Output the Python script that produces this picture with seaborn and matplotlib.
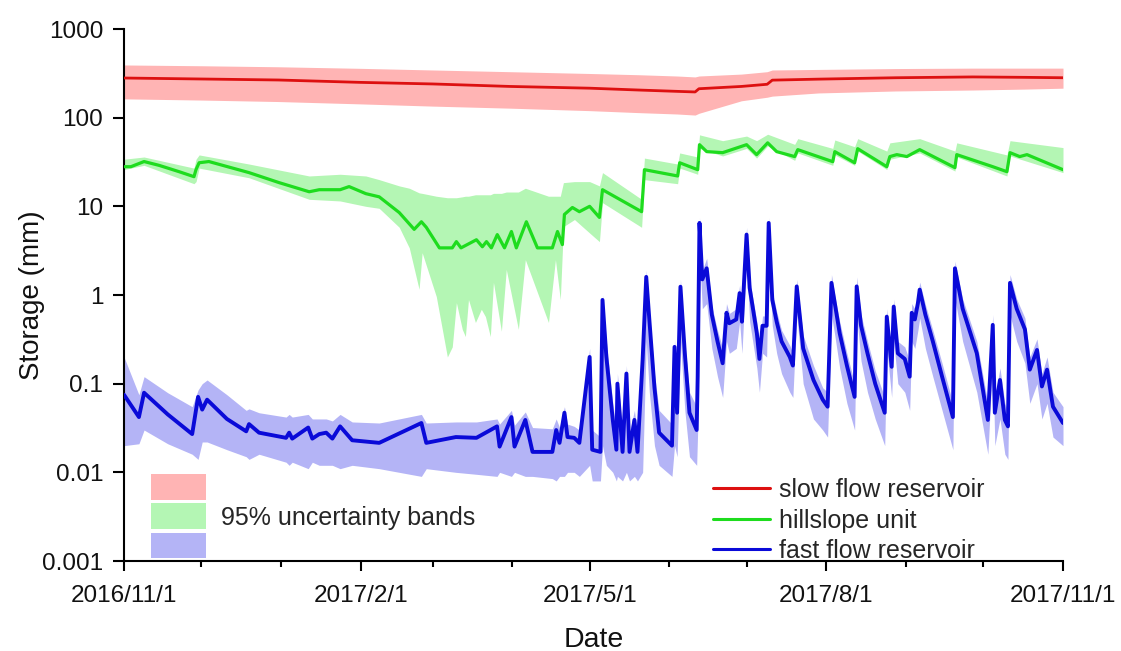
import numpy as np
import pandas as pd
import matplotlib
matplotlib.use("Agg")
import matplotlib.pyplot as plt
import matplotlib.dates as mdates
from matplotlib.ticker import FixedLocator, NullLocator
from matplotlib.patches import Patch
from matplotlib.lines import Line2D
import seaborn as sns

# ---------------- data (days after 2016-11-01, storage in mm) ----------------
START = "2016-11-01"

red_days = [0, 30, 60, 92, 120, 150, 181, 200, 215, 222, 223.5, 240, 250, 252, 270, 300, 330, 350, 365]
red_val = [280, 273, 266, 250, 240, 225, 215, 205, 198, 195, 212, 225, 238, 265, 272, 282, 288, 285, 282]
red_hi = [393, 385, 375, 360, 345, 330, 315, 305, 295, 288, 295, 310, 330, 345, 350, 358, 362, 362, 362]
red_lo = [163, 158, 152, 143, 135, 128, 120, 114, 110, 107, 112, 155, 170, 175, 190, 200, 205, 210, 215]

green_days = [0, 2.7, 7.8, 13.6, 21.4, 27.2, 28, 29.2, 33, 48.6,
              60.3, 72, 75.9, 84, 87.5, 94, 99.2, 107, 112.8, 115.6,
              117.5, 122.6, 127.6, 129.2, 131, 137, 139.3, 140.9, 142.8, 145.1,
              147.9, 150.6, 152.5, 156.4, 160.7, 166.5, 168.5, 170.4, 171.2, 174.3,
              177, 181, 184.8, 186, 201.2, 202.3, 215.2, 216, 223, 223.7,
              226.5, 232.7, 242, 245.9, 250.2, 253.7, 260.7, 261.9, 275.5, 276.3,
              284, 285.2, 296.5, 297.7, 300.4, 304.3, 309.3, 323, 323.7, 337.7,
              343.2, 344.4, 348.2, 351, 365]
green_val = [28, 28, 32, 29, 24.6, 21.6, 26, 31, 32, 24,
             18.5, 14.6, 15.4, 15.4, 16.7, 13.9, 12.8, 8.5, 5.5, 6.7,
             5.8, 3.4, 3.4, 4.0, 3.4, 4.2, 3.5, 4.0, 3.4, 4.8,
             3.4, 5.2, 3.4, 6.7, 3.4, 3.4, 5.2, 3.7, 8.1, 9.7,
             8.7, 10, 7.5, 15.4, 8.7, 25.9, 22, 31, 25.9, 49.6,
             41.4, 40.3, 49.6, 38.3, 52, 41.4, 36.4, 43.6, 31.9, 41.4,
             31, 44.7, 28, 36.4, 38.3, 36.4, 43.6, 27.3, 38.3, 28,
             24.6, 40.3, 36.4, 38.3, 25.9]

green_band_days = [0, 7.8, 27.2, 28, 29.2, 48.6, 72, 84, 94, 99.2,
                   107, 110.9, 114.7, 115.9, 121.4, 125.7, 127.6, 129.2, 131.5, 132.7,
                   133.9, 136.6, 138.9, 140.5, 142.4, 143.6, 146.7, 148.6, 153.3, 156,
                   165, 167.7, 169.6, 170.8, 175.1, 181, 184.8, 186, 201.2, 202.3,
                   215.2, 216, 223, 223.7, 232.7, 242, 245.9, 250.2, 260.7, 261.9,
                   275.5, 276.3, 284, 285.2, 296.5, 297.7, 309.3, 323, 323.7, 343.2,
                   344.4, 365]
green_hi = [34, 36, 27, 34, 38, 30, 22, 23, 22, 20,
            17, 16, 14.2, 14, 13, 12.5, 12.5, 12.5, 12.8, 13,
            13, 13.5, 13.5, 13.5, 13.5, 14, 14, 14.5, 14.5, 16,
            13, 13, 13, 18.5, 19, 19, 17, 24, 12, 35,
            30, 40, 36, 64, 55, 62, 55, 65, 50, 58,
            45, 56, 47, 58, 42, 52, 58, 42, 52, 38,
            55, 46]
green_lo = [26, 29, 18, 19, 27, 21, 12, 11.5, 10, 9.5,
            5.8, 3.4, 1.16, 3.0, 0.96, 0.2, 0.26, 0.82, 0.41, 0.34,
            0.89, 0.49, 0.69, 0.57, 0.34, 1.39, 0.39, 1.94, 0.41, 2.5,
            0.49, 2.5, 0.89, 5.9, 7.1, 5.0, 4.0, 11, 5.8, 20,
            18, 27, 23, 45, 37, 45, 35, 48, 33, 40,
            29, 38, 29, 42, 26, 34, 40, 25, 36, 22,
            37, 24]

blue_days = [0, 5.8, 7.8, 17, 26.5, 28.8, 30.4, 32.3, 40, 47.5,
             48.6, 52.5, 63, 64.2, 65.4, 71.6, 73.2, 75.9, 78.6, 81,
             84, 88.7, 99.2, 115.6, 117.5, 129, 137, 145, 146, 150.6,
             151.8, 156, 158.8, 166.5, 168, 169.3, 171.2, 172.4, 175, 177,
             181, 182, 185.2, 186, 187.5, 190, 191.4, 191.8, 193.8, 195.3,
             196.5, 198.4, 199.6, 201.6, 203, 204.2, 206.2, 208, 213, 214,
             215, 216.3, 218, 219.8, 222.6, 223, 223.7, 224.8, 226.5, 228.5,
             230.7, 232.7, 234.2, 235.3, 238, 239.3, 240.2, 242, 243.2, 246,
             247, 248.2, 249.8, 250.6, 252, 253.7, 255.6, 258.8, 260, 261.5,
             264, 268, 271.6, 273.5, 275, 276.3, 278.2, 281, 284, 284.8,
             286.5, 289, 292, 295.7, 296.5, 298.4, 299.2, 300.8, 303.5, 305.4,
             306.2, 307.4, 308.6, 309.3, 311.5, 314.4, 318, 322.2, 323, 326,
             331.5, 335.8, 337.7, 338.5, 340.5, 342.4, 343.6, 344.4, 347, 350.2,
             352.1, 354.9, 356.8, 358.8, 361.1, 365]
blue_val = [0.075, 0.042, 0.079, 0.045, 0.027, 0.071, 0.051, 0.066, 0.04, 0.029,
            0.035, 0.028, 0.0245, 0.028, 0.024, 0.032, 0.024, 0.027, 0.028, 0.024,
            0.033, 0.023, 0.0215, 0.036, 0.0215, 0.025, 0.0245, 0.033, 0.0195, 0.042,
            0.0195, 0.039, 0.017, 0.017, 0.030, 0.0215, 0.047, 0.025, 0.0245, 0.0215,
            0.2, 0.018, 0.017, 0.88, 0.2, 0.039, 0.018, 0.1, 0.017, 0.13,
            0.017, 0.039, 0.017, 0.187, 1.6, 0.53, 0.09, 0.028, 0.02, 0.26,
            0.047, 1.24, 0.22, 0.047, 0.03, 0.12, 6.5, 1.5, 2.0, 0.6,
            0.3, 0.17, 0.63, 0.48, 0.53, 1.05, 0.5, 4.8, 1.2, 0.37,
            0.19, 0.45, 0.45, 6.5, 0.88, 0.5, 0.3, 0.2, 0.16, 1.25,
            0.25, 0.11, 0.066, 0.055, 1.37, 0.81, 0.37, 0.16, 0.071, 1.25,
            0.45, 0.22, 0.1, 0.047, 0.57, 0.155, 0.74, 0.22, 0.19, 0.12,
            0.63, 0.53, 0.81, 1.15, 0.6, 0.3, 0.12, 0.042, 2.0, 0.7,
            0.22, 0.039, 0.46, 0.047, 0.11, 0.039, 0.033, 1.37, 0.7, 0.41,
            0.144, 0.24, 0.093, 0.144, 0.055, 0.036]
blue_hi = [0.2, 0.075, 0.12, 0.079, 0.055, 0.085, 0.1, 0.11, 0.075, 0.05,
           0.052, 0.047, 0.042, 0.045, 0.042, 0.045, 0.04, 0.04, 0.04, 0.038,
           0.045, 0.037, 0.036, 0.045, 0.036, 0.037, 0.037, 0.04, 0.035, 0.05,
           0.034, 0.048, 0.032, 0.031, 0.04, 0.032, 0.055, 0.035, 0.033, 0.03,
           0.25, 0.03, 0.025, 1.0, 0.3, 0.06, 0.03, 0.13, 0.028, 0.16,
           0.028, 0.05, 0.027, 0.22, 1.9, 0.65, 0.13, 0.05, 0.035, 0.32,
           0.08, 1.5, 0.3, 0.08, 0.055, 0.15, 7.5, 1.9, 2.6, 0.75,
           0.4, 0.25, 0.8, 0.62, 0.7, 1.3, 0.65, 5.8, 1.5, 0.5,
           0.26, 0.58, 0.58, 7.5, 1.1, 0.65, 0.4, 0.27, 0.22, 1.5,
           0.35, 0.16, 0.09, 0.08, 1.7, 1.0, 0.5, 0.22, 0.1, 1.6,
           0.6, 0.3, 0.14, 0.07, 0.7, 0.22, 0.9, 0.3, 0.26, 0.18,
           0.8, 0.7, 1.0, 1.4, 0.78, 0.4, 0.17, 0.06, 2.4, 0.9,
           0.3, 0.06, 0.6, 0.07, 0.15, 0.06, 0.05, 1.7, 0.9, 0.55,
           0.2, 0.32, 0.13, 0.2, 0.08, 0.055]
blue_lo = [0.02, 0.021, 0.03, 0.021, 0.016, 0.014, 0.022, 0.022, 0.018, 0.015,
           0.014, 0.016, 0.013, 0.012, 0.013, 0.011, 0.013, 0.012, 0.012, 0.012,
           0.011, 0.012, 0.011, 0.009, 0.011, 0.010, 0.0095, 0.009, 0.010, 0.009,
           0.010, 0.009, 0.009, 0.0085, 0.008, 0.009, 0.009, 0.010, 0.010, 0.009,
           0.012, 0.008, 0.008, 0.02, 0.012, 0.01, 0.008, 0.009, 0.008, 0.01,
           0.008, 0.009, 0.008, 0.01, 0.3, 0.08, 0.02, 0.012, 0.009, 0.02,
           0.015, 0.3, 0.05, 0.015, 0.012, 0.03, 3.0, 0.7, 0.8, 0.25,
           0.12, 0.07, 0.3, 0.22, 0.25, 0.5, 0.22, 2.4, 0.5, 0.15,
           0.08, 0.22, 0.2, 3.0, 0.45, 0.22, 0.13, 0.08, 0.07, 0.6,
           0.1, 0.04, 0.03, 0.025, 0.6, 0.35, 0.15, 0.06, 0.03, 0.6,
           0.18, 0.08, 0.04, 0.02, 0.25, 0.07, 0.3, 0.1, 0.08, 0.05,
           0.3, 0.25, 0.4, 0.55, 0.25, 0.12, 0.05, 0.018, 0.9, 0.3,
           0.08, 0.016, 0.2, 0.02, 0.04, 0.016, 0.014, 0.6, 0.3, 0.17,
           0.06, 0.1, 0.04, 0.06, 0.025, 0.02]

y_ticks = [0.001, 0.01, 0.1, 1, 10, 100, 1000]
y_tick_labels = ["0.001", "0.01", "0.1", "1", "10", "100", "1000"]
x_ticks = ["2016-11-01", "2017-02-01", "2017-05-01", "2017-08-01", "2017-11-01"]
x_tick_labels = ["2016/11/1", "2017/2/1", "2017/5/1", "2017/8/1", "2017/11/1"]
series_labels = ["slow flow reservoir", "hillslope unit", "fast flow reservoir"]
band_label = "95% uncertainty bands"

# ---------------- style ----------------
line_colors = ["#dd1010", "#1edc1e", "#0a0ad8"]
band_colors = ["#ffb4b4", "#b4f6b4", "#b4b4f6"]

sns.set_theme(style="ticks")
plt.rcParams["font.family"] = ["Liberation Sans", "DejaVu Sans"]


def to_dates(days):
    return pd.Timestamp(START) + pd.to_timedelta(np.asarray(days, dtype=float), unit="D")


fig = plt.figure(figsize=(11.21, 6.51), dpi=100)
ax = fig.add_axes([124 / 1121, 1 - 561 / 651, (1063 - 124) / 1121, (561 - 29) / 651])

# bands
ax.fill_between(to_dates(red_days), red_lo, red_hi, color=band_colors[0], lw=0, zorder=1)
ax.fill_between(to_dates(green_band_days), green_lo, green_hi, color=band_colors[1], lw=0, zorder=1)
ax.fill_between(to_dates(blue_days), blue_lo, blue_hi, color=band_colors[2], lw=0, zorder=1)

# lines
sns.lineplot(x=to_dates(red_days), y=red_val, ax=ax, color=line_colors[0], lw=2.0, zorder=3)
sns.lineplot(x=to_dates(green_days), y=green_val, ax=ax, color=line_colors[1], lw=2.3, zorder=3)
sns.lineplot(x=to_dates(blue_days), y=blue_val, ax=ax, color=line_colors[2], lw=2.8, zorder=3)

ax.set_yscale("log")
ax.set_ylim(0.001, 1000)
ax.yaxis.set_major_locator(FixedLocator(y_ticks))
ax.set_yticklabels(y_tick_labels)
ax.yaxis.set_minor_locator(NullLocator())

ax.set_xlim(pd.Timestamp(x_ticks[0]), pd.Timestamp(x_ticks[-1]))
ax.set_xticks(pd.to_datetime(x_ticks))
ax.set_xticklabels(x_tick_labels)
ax.xaxis.set_minor_locator(mdates.MonthLocator())

for s in ["top", "right"]:
    ax.spines[s].set_visible(False)
for s in ["left", "bottom"]:
    ax.spines[s].set_linewidth(1.5)
    ax.spines[s].set_color("black")

ax.tick_params(axis="y", which="major", length=8, width=1.5, pad=7, labelsize=17.5, colors="black")
ax.tick_params(axis="x", which="major", length=7.5, width=1.5, pad=10, labelsize=17.5, colors="black")
ax.tick_params(axis="x", which="minor", length=4, width=1.5, colors="black")
for lab in ax.get_xticklabels() + ax.get_yticklabels():
    lab.set_color("#111111")

ax.set_xlabel("Date", fontsize=20.5, labelpad=14, color="#111111")
ax.set_ylabel("Storage (mm)", fontsize=20, labelpad=-2, color="#111111")
ax.grid(False)

# legend: uncertainty bands
band_handles = [Patch(facecolor=c, edgecolor="none") for c in band_colors]
leg1 = ax.legend(band_handles, ["", band_label, ""], loc="lower left",
                 bbox_to_anchor=(0.029, 0.004), frameon=False, fontsize=18,
                 handlelength=2.2, handleheight=1.2, labelspacing=0.12,
                 handletextpad=0.6, borderpad=0, borderaxespad=0)
ax.add_artist(leg1)

line_handles = [Line2D([0], [0], color=c, lw=2.2) for c in line_colors]
ax.legend(line_handles, series_labels, loc="lower left", bbox_to_anchor=(0.627, -0.004),
          frameon=False, fontsize=18, handlelength=2.3, labelspacing=0.26,
          handletextpad=0.33, borderpad=0, borderaxespad=0)

fig.savefig("out.png", dpi=100)
